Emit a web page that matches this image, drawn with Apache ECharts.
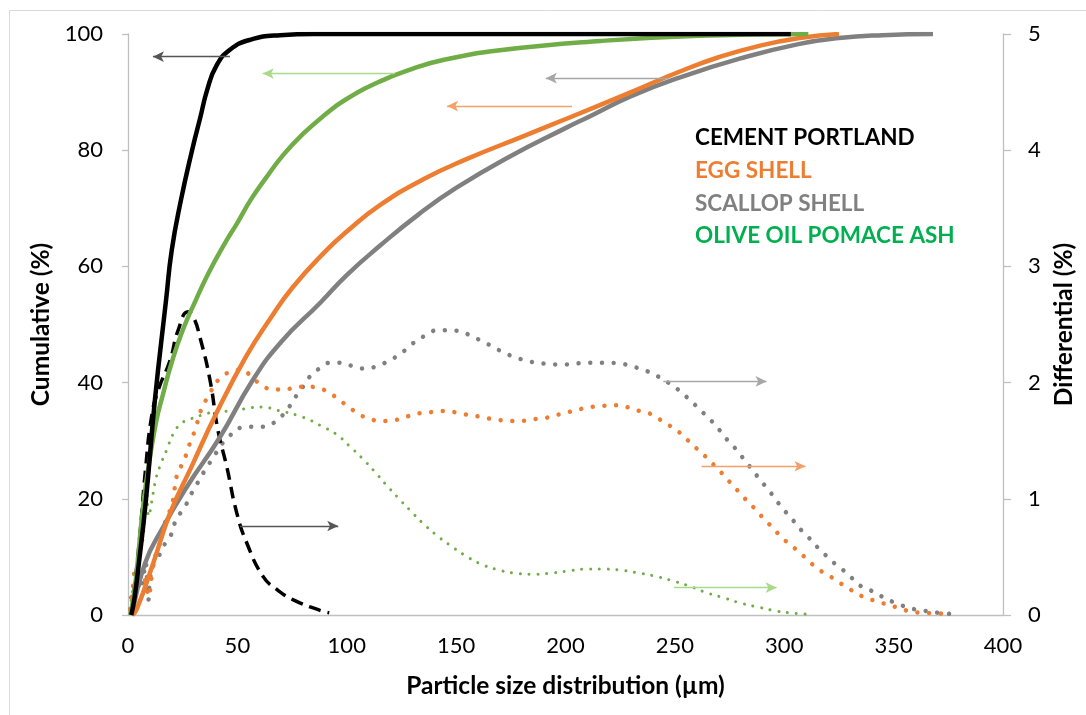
<!DOCTYPE html>
<html>
<head>
<meta charset="utf-8">
<script src="https://cdn.jsdelivr.net/npm/echarts@6/dist/echarts.min.js"></script>
<style>
html,body{margin:0;padding:0;background:#fff;}
#chart{width:1086px;height:715px;}
</style>
</head>
<body>
<div id="chart"></div>
<script>
// ---- Data (particle size in µm, value in %) ----
const legendNames = ['CEMENT PORTLAND', 'EGG SHELL', 'SCALLOP SHELL', 'OLIVE OIL POMACE ASH'];

const cementCum = [[1.5,0],[3,3],[5,9],[8.2,19.8],[12.3,37],[17.4,54.2],[20,62.8],[24.2,71.4],[29.3,80],[32.9,85.4],[36.3,90.5],[40.5,94.6],[46.6,97.3],[55.8,99],[69.5,99.8],[85,100],[150,100],[303,100]];
const cementDiff = [[1.5,0],[5,0.6],[8,1.25],[10.8,1.71],[13.9,1.94],[19.2,2.19],[22.9,2.45],[27.5,2.61],[30,2.56],[32.9,2.39],[37.5,2.02],[41.1,1.59],[45.1,1.28],[49.7,0.88],[54.3,0.62],[61.8,0.33],[68,0.22],[75.6,0.13],[87.8,0.04],[92,0.02]];

const eggCum = [[2,0],[4,1],[11.6,9],[19.2,17.5],[29,25.5],[40.5,34.8],[54,44.5],[65,51],[75.5,56.5],[90,62.5],[100,66],[115,70.5],[135,75],[155,78.5],[180,82.3],[203,85.8],[230,90],[252,93.5],[270,96],[289,98],[307,99.3],[325,100]];
const eggDiff = [[1,0.05],[2,0.2],[3.5,0.4],[5,0.25],[6.2,0.24],[7.8,0.3],[9.3,0.16],[10.8,0.33],[11.6,0.45],[14.6,0.62],[17,0.8],[19.2,0.9],[20.7,1.0],[22.2,1.19],[24.5,1.29],[26.8,1.39],[28.3,1.48],[30.6,1.59],[33.7,1.78],[36,1.86],[42,2.04],[46.6,2.09],[52,2.11],[56.5,2.05],[61,1.98],[66.4,1.94],[71.8,1.94],[76.3,1.96],[81.7,1.965],[87.4,1.95],[92.3,1.91],[96.6,1.85],[101,1.79],[105.4,1.73],[110.3,1.69],[115.5,1.67],[121,1.675],[126.2,1.7],[131.5,1.73],[136.8,1.74],[142.1,1.755],[147.5,1.75],[153,1.73],[158.3,1.715],[163.7,1.695],[169.1,1.68],[174.5,1.67],[179.8,1.67],[185.3,1.685],[190.6,1.695],[195.8,1.72],[201.1,1.745],[206.3,1.77],[211.7,1.79],[217,1.8],[222.5,1.805],[228,1.79],[233.1,1.76],[238.3,1.735],[242.9,1.685],[247.6,1.63],[252.2,1.57],[256.1,1.5],[260.1,1.43],[264.2,1.36],[267.9,1.29],[271.5,1.22],[275.3,1.14],[279,1.065],[282.6,0.99],[286.5,0.915],[290.1,0.84],[293.9,0.766],[297.7,0.69],[301.7,0.62],[305.7,0.56],[309.8,0.49],[313.9,0.42],[318.3,0.36],[322.9,0.31],[327.5,0.25],[332,0.2],[336.9,0.15],[342,0.12],[347,0.09],[352.5,0.06],[357.6,0.03],[363,0.02],[368.5,0.015],[373.8,0.01]];

const scallopCum = [[2,0],[7.8,8.9],[16,15.1],[26.8,22],[42,30.6],[57,40.4],[70,47],[87.8,53.7],[100,58.5],[115,63.5],[133,69],[150,73.5],[175,79],[200,83.8],[211,85.8],[230,89.3],[252,92.5],[280,95.8],[307,98.3],[325,99.3],[345,99.8],[368,100]];
const scallopDiff = [[1,0.05],[2,0.2],[3.2,0.23],[4.5,0.35],[5.5,0.22],[7,0.33],[8,0.45],[9.3,0.13],[10,0.3],[10.8,0.37],[12,0.45],[13.9,0.5],[16.1,0.59],[19.2,0.67],[20.7,0.76],[23,0.85],[26,0.93],[28.3,1.02],[31.3,1.12],[33.7,1.2],[36.7,1.29],[39.8,1.38],[42,1.45],[45.9,1.53],[51.2,1.61],[56.5,1.62],[61.9,1.62],[66.7,1.655],[70.7,1.72],[74,1.8],[77.1,1.89],[80.2,1.97],[83.5,2.06],[87.4,2.12],[92.3,2.17],[97.6,2.17],[103,2.14],[108.3,2.12],[113.6,2.14],[118.5,2.18],[123.1,2.23],[127.4,2.29],[131.8,2.36],[136.5,2.41],[141.4,2.45],[146.7,2.45],[152,2.44],[157,2.4],[162,2.355],[166.7,2.31],[171.6,2.26],[176.8,2.22],[182,2.19],[187.1,2.17],[192.6,2.16],[197.9,2.155],[203.3,2.16],[208.7,2.17],[214.2,2.17],[219.6,2.17],[224.9,2.165],[230.2,2.14],[235.6,2.11],[240.5,2.07],[245.2,2.02],[249.7,1.965],[253.9,1.9],[258,1.83],[261.8,1.76],[265.7,1.69],[269.4,1.615],[272.9,1.53],[276.4,1.46],[279.9,1.38],[283.3,1.3],[286.6,1.22],[290,1.14],[293.5,1.06],[296.8,0.975],[300.3,0.895],[303.8,0.82],[307.3,0.74],[311,0.67],[314.8,0.59],[318.6,0.52],[322.6,0.45],[326.7,0.39],[330.8,0.32],[334.9,0.25],[339.7,0.21],[344.5,0.16],[349.4,0.115],[354.1,0.08],[359.4,0.05],[364.6,0.035],[370.1,0.02],[375.4,0.01]];

const oliveCum = [[1,0],[2.5,3],[4,7.5],[7,19],[10,27],[13,33.5],[16,38],[20,43.5],[25,49],[31,54.2],[37,59],[44,63.8],[50,67.5],[56,71.4],[63,75.2],[71,79.2],[80,82.8],[90,86.1],[99,88.6],[115,91.8],[130,94],[145,95.6],[170,97.2],[216,98.8],[261,99.7],[311,100]];
const oliveDiff = [[1,0.05],[1.7,0.16],[2.4,0.23],[4,0.36],[5.5,0.56],[7,0.67],[8.5,1.1],[9.5,0.85],[10.8,0.97],[12.5,1.15],[14.6,1.28],[17.7,1.42],[20.7,1.56],[24.5,1.65],[29,1.69],[33.7,1.72],[39,1.745],[48.9,1.76],[56.5,1.785],[61.1,1.79],[68.7,1.76],[77.1,1.72],[84,1.67],[88,1.63],[94.9,1.56],[101.2,1.455],[107,1.35],[112.5,1.24],[117.8,1.125],[123.4,1.01],[129,0.9],[134.8,0.79],[140.8,0.69],[147.2,0.6],[154.3,0.51],[161.2,0.44],[168.9,0.39],[177,0.36],[185,0.35],[193.2,0.36],[201.5,0.38],[209.3,0.395],[217.6,0.395],[225.7,0.385],[233.8,0.36],[242,0.33],[249.7,0.29],[257.2,0.245],[264.8,0.19],[272.7,0.146],[280.5,0.1],[288.6,0.066],[296.5,0.034],[304.7,0.015],[312.8,0.005]];

// annotation arrows: [fromX, toX, y]
const arrowCementCum = [46.6, 11.4, 96.1];
const arrowOliveCum = [122, 61.6, 93.2];
const arrowScallopCum = [247, 191, 92.4];
const arrowEggCum = [203, 145.9, 87.6];
const arrowCementDiff = [51.2, 96.1, 0.766];
const arrowScallopDiff = [244.7, 291.9, 2.01];
const arrowEggDiff = [262.2, 309.7, 1.28];
const arrowOliveDiff = [249.6, 296.5, 0.235];

const FONT = 'Lato, "Open Sans", sans-serif';
const C_BLACK = '#000000', C_ORANGE = '#ED7D31', C_GRAY = '#808080', C_GREEN = '#70AD47';

function arrow(a, color, headColor) {
  return {
    silent: true,
    symbol: ['none', 'arrow'],
    symbolSize: [8, 11],
    label: {show: false},
    animation: false,
    lineStyle: {color: color, width: 1.3, type: 'solid'},
    itemStyle: {color: headColor || color},
    data: [[{coord: [a[0], a[2]], symbol: 'none'}, {coord: [a[1], a[2]], symbol: 'arrow', itemStyle: {color: headColor || color}}]]
  };
}
function dotted(width, gap) {
  return {type: [0.01, gap], cap: 'round', width: width};
}
function line(name, axis, data, lineStyle, markLine) {
  return {name: name, type: 'line', yAxisIndex: axis, data: data, showSymbol: false,
          smooth: 0.5, lineStyle: lineStyle, markLine: markLine};
}

const chart = echarts.init(document.getElementById('chart'), null, {renderer: 'canvas'});
const axisLineStyle = {color: '#BFBFBF', width: 1.3};
const titleStyle = {fontFamily: FONT, fontWeight: 'bold', fontSize: 24.5, color: '#000'};
const tickStyle = {fontFamily: FONT, fontSize: 22, color: '#000'};
const legendFont = 'bold 22.5px ' + FONT;
chart.setOption({
  animation: false,
  backgroundColor: '#ffffff',
  grid: {left: 128, right: 83, top: 34, bottom: 100, containLabel: false},
  xAxis: {
    type: 'value', min: 0, max: 400, interval: 50,
    name: 'Particle size distribution (µm)', nameLocation: 'middle', nameGap: 59,
    nameTextStyle: titleStyle,
    axisLine: {show: true, lineStyle: axisLineStyle},
    axisTick: {show: false},
    splitLine: {show: false},
    axisLabel: Object.assign({margin: 20}, tickStyle)
  },
  yAxis: [{
    type: 'value', min: 0, max: 100, interval: 20, position: 'left',
    name: 'Cumulative (%)', nameLocation: 'middle', nameGap: 66, nameRotate: 90,
    nameTextStyle: titleStyle,
    axisLine: {show: true, lineStyle: axisLineStyle},
    axisTick: {show: true, length: 6, lineStyle: axisLineStyle},
    splitLine: {show: false},
    axisLabel: Object.assign({margin: 25}, tickStyle)
  }, {
    type: 'value', min: 0, max: 5, interval: 1, position: 'right',
    name: 'Differential (%)', nameLocation: 'middle', nameGap: 48, nameRotate: 90,
    nameTextStyle: titleStyle,
    axisLine: {show: true, lineStyle: axisLineStyle},
    axisTick: {show: true, length: 8, lineStyle: axisLineStyle},
    splitLine: {show: false},
    axisLabel: Object.assign({margin: 25}, tickStyle)
  }],
  graphic: [
    {type: 'rect', silent: true, shape: {x: 9.5, y: 10.5, width: 1200, height: 800}, style: {fill: 'none', stroke: '#D9D9D9', lineWidth: 1}},
    {type: 'text', left: 695, top: 126, style: {text: legendNames[0], fill: C_BLACK, font: legendFont}},
    {type: 'text', left: 695, top: 159, style: {text: legendNames[1], fill: C_ORANGE, font: legendFont}},
    {type: 'text', left: 695, top: 192, style: {text: legendNames[2], fill: C_GRAY, font: legendFont}},
    {type: 'text', left: 695, top: 224, style: {text: legendNames[3], fill: '#00B050', font: legendFont}}
  ],
  series: [
    line('Scallop diff', 1, scallopDiff, Object.assign({color: C_GRAY}, dotted(4.5, 11.7)), arrow(arrowScallopDiff, '#A6A6A6', '#808080')),
    line('Egg diff', 1, eggDiff, Object.assign({color: C_ORANGE}, dotted(4.5, 11.7)), arrow(arrowEggDiff, '#F4A06A', C_ORANGE)),
    line('Olive diff', 1, oliveDiff, Object.assign({color: C_GREEN}, dotted(3, 8.8)), arrow(arrowOliveDiff, '#A9D98B', '#92D050')),
    line('Cement diff', 1, cementDiff, {color: C_BLACK, width: 3.5, type: [12, 7]}, arrow(arrowCementDiff, '#555555', '#000000')),
    line('Scallop cum', 0, scallopCum, {color: C_GRAY, width: 4.5}, arrow(arrowScallopCum, '#A6A6A6', '#808080')),
    line('Egg cum', 0, eggCum, {color: C_ORANGE, width: 4.5}, arrow(arrowEggCum, '#F4A06A', C_ORANGE)),
    line('Olive cum', 0, oliveCum, {color: C_GREEN, width: 4.5}, arrow(arrowOliveCum, '#A9D98B', '#92D050')),
    line('Cement cum', 0, cementCum, {color: C_BLACK, width: 4.5}, arrow(arrowCementCum, '#555555', '#000000'))
  ]
});
</script>
</body>
</html>
